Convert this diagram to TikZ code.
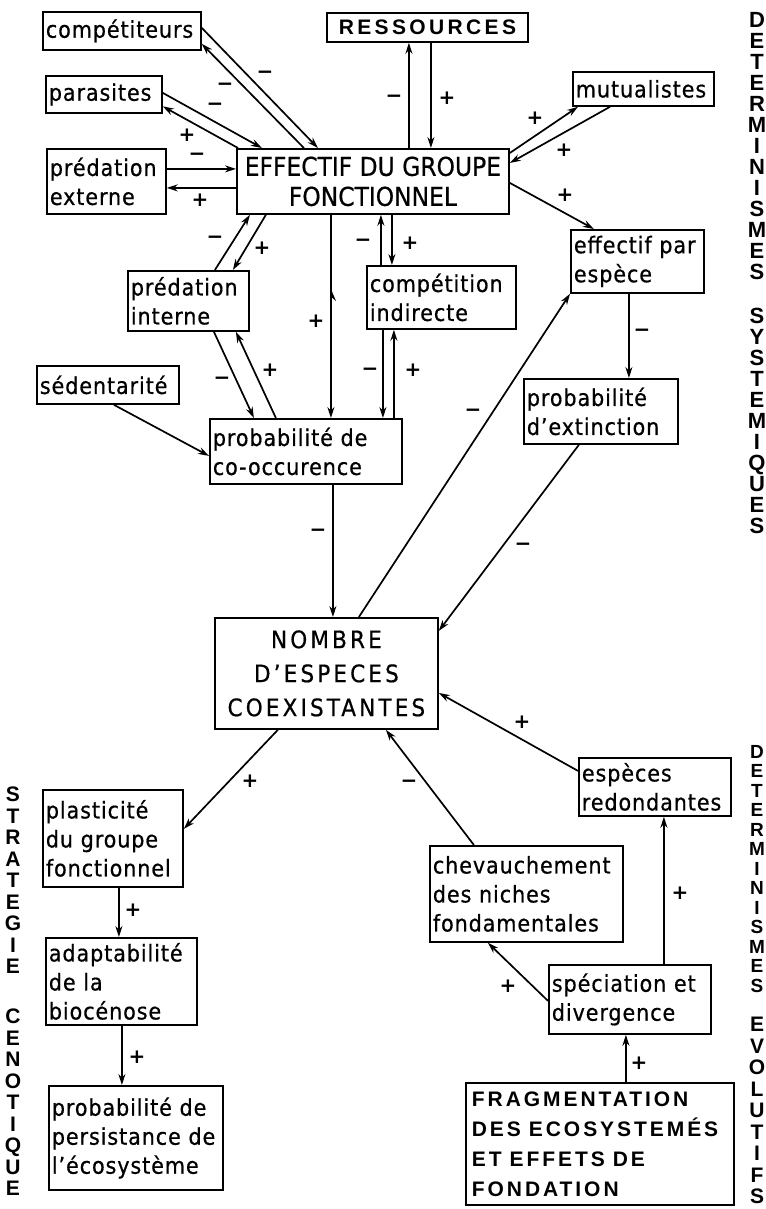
\documentclass[tikz,border=0pt]{standalone}
\usepackage{fontspec}
\usetikzlibrary{arrows.meta}
\newfontfamily\boxfont[LetterSpace=4,FakeBold=0.6]{DejaVu Sans Condensed}
\newfontfamily\capfont[FakeBold=0.6]{DejaVu Sans Condensed}
\newfontfamily\nombfont[LetterSpace=13,FakeBold=0.6]{DejaVu Sans Condensed}
\newfontfamily\resfont[LetterSpace=16]{Liberation Sans}
\newfontfamily\fragfont[LetterSpace=14]{Liberation Sans}
\newfontfamily\vertfont{Liberation Sans}
\newfontfamily\signfont{DejaVu Sans}
\newcommand\wsp{\hspace{8pt}}
\begin{document}
\begin{tikzpicture}[x=1pt,y=-1pt,
  bx/.style={draw, line width=1.8pt, anchor=north west, inner xsep=3pt, inner ysep=0pt, align=left, font=\boxfont\fontsize{23}{29}\selectfont},
  cbx/.style={draw, line width=1.8pt, anchor=north west, inner sep=0pt, align=center},
  arr/.style={line width=1.7pt, -{Stealth[length=11pt,width=7pt]}},
  sg/.style={font=\signfont\bfseries\fontsize{20}{20}\selectfont, inner sep=0pt},
  vt/.style={anchor=north, inner sep=0pt, align=center, font=\vertfont\bfseries\fontsize{22}{21}\selectfont},
]
\fill[white] (0,0) rectangle (765,1209);
\useasboundingbox (0,0) rectangle (765,1209);

% ---------- boxes ----------
\node[bx, text width=152pt, minimum height=38pt] (comp) at (42,11) {compétiteurs};
\node[cbx, minimum width=201pt, minimum height=29pt, font=\resfont\bfseries\fontsize{21}{21}\selectfont] (res) at (326,12) {RESSOURCES};
\node[bx, text width=110pt, minimum height=37pt] (para) at (45,75) {parasites};
\node[bx, text width=113pt, minimum height=65pt] (pext) at (46,148) {prédation\\externe};
\node[cbx, minimum width=272pt, minimum height=65pt, font=\capfont\fontsize{26}{30}\selectfont] (eff) at (236,148) {EFFECTIF DU GROUPE\\FONCTIONNEL};
\node[bx, text width=135pt, minimum height=34pt] (mut) at (572,71) {mutualistes};
\node[bx, text width=127pt, minimum height=63pt] (epe) at (570,229) {effectif par\\espèce};
\node[bx, text width=115pt, minimum height=60pt] (pint) at (127,270) {prédation\\interne};
\node[bx, text width=143pt, minimum height=63pt] (cind) at (366,265) {compétition\\indirecte};
\node[bx, text width=136pt, minimum height=38pt] (sed) at (36,365) {sédentarité};
\node[bx, text width=186pt, minimum height=65pt] (cooc) at (209,418) {probabilité de\\co-occurence};
\node[bx, text width=148pt, minimum height=65pt] (ext) at (523,378) {probabilité\\d’extinction};
\node[cbx, minimum width=223pt, minimum height=111pt, font=\nombfont\fontsize{24}{34}\selectfont] (nomb) at (214,617) {NOMBRE\\D’ESPECES\\COEXISTANTES};
\node[bx, text width=134pt, minimum height=97pt] (plast) at (42,789) {plasticité\\du groupe\\fonctionnel};
\node[bx, text width=145pt, minimum height=87pt] (adapt) at (45,937) {adaptabilité\\de la\\biocénose};
\node[bx, text width=168pt, minimum height=104pt] (pers) at (48,1085) {probabilité de\\persistance de\\l’écosystème};
\node[bx, text width=146pt, minimum height=58pt] (red) at (578,757) {espèces\\redondantes};
\node[bx, text width=187pt, minimum height=96pt] (chev) at (429,845) {chevauchement\\des niches\\fondamentales};
\node[bx, text width=156pt, minimum height=69pt] (spec) at (548,964) {spéciation et\\divergence};
\node[bx, inner xsep=6pt, text width=256pt, minimum height=122pt, font=\fragfont\bfseries\fontsize{21}{30}\selectfont] (frag) at (465,1082) {FRAGMENTATION\\DES\wsp ECOSYSTEMÉS\\ET\wsp EFFETS\wsp DE\\FONDATION};

% ---------- connectors ----------
\draw[arr] ([yshift=3pt]comp.east) -- ([xshift=-55pt]eff.north);
\draw[arr] ([xshift=-69pt]eff.north) -- ([yshift=-13pt]comp.east);
\draw[arr] ([yshift=1.5pt]para.east) -- ([xshift=-111pt]eff.north);
\draw[arr] ([xshift=2pt]eff.north west) -- ([yshift=-12pt]para.east);
\draw[arr] ([yshift=12.5pt]pext.east) -- ([yshift=12.5pt]eff.west);
\draw[arr] ([yshift=-6.5pt]eff.west) -- ([yshift=-6.5pt]pext.east);
\draw[arr] ([xshift=36pt]eff.north) -- ([xshift=-18.5pt]res.south);
\draw[arr] ([xshift=3.5pt]res.south) -- ([xshift=58pt]eff.north);
\draw[arr] ([yshift=-5pt]eff.north east) -- ([xshift=6pt]mut.south west);
\draw[arr] ([xshift=38pt]mut.south west) -- ([yshift=-15pt]eff.north east);
\draw[arr] ([yshift=-1.5pt]eff.east) -- ([xshift=-43.5pt]epe.north);
\draw[arr] ([xshift=26.5pt]pint.north) -- ([xshift=-123pt]eff.south);
\draw[arr] ([xshift=-107pt]eff.south) -- ([xshift=44.5pt]pint.north);
\draw[arr] ([xshift=-42pt]eff.south) -- ([xshift=25pt]cooc.north);
\fill (330,287) -- (336,301) -- (330,296) -- cycle;
\draw[arr] ([xshift=-60.5pt]cind.north) -- ([xshift=8pt]eff.south);
\draw[arr] ([xshift=19pt]eff.south) -- ([xshift=-49.5pt]cind.north);
\draw[arr] ([xshift=-58.5pt]cind.south) -- ([xshift=77pt]cooc.north);
\draw[arr] ([xshift=88pt]cooc.north) -- ([xshift=-47.5pt]cind.south);
\draw[arr] ([xshift=25.5pt]pint.south) -- ([xshift=-52pt]cooc.north);
\draw[arr] ([xshift=-30pt]cooc.north) -- ([xshift=47.5pt]pint.south);
\draw[arr] ([xshift=6pt]sed.south) -- ([yshift=-4.5pt]cooc.west);
\draw[arr] ([xshift=-8.5pt]epe.south) -- ([xshift=28pt]ext.north);
\draw[arr] ([xshift=27pt]cooc.south) -- ([xshift=6.5pt]nomb.north);
\draw[arr] ([xshift=32.5pt]nomb.north) -- (epe.south west);
\draw[arr] ([xshift=-22pt]ext.south) -- ([yshift=42.5pt]nomb.east);
\draw[arr] ([yshift=16pt]red.west) -- ([yshift=-19.5pt]nomb.east);
\draw[arr] ([xshift=-52.5pt]chev.north) -- ([xshift=59.5pt]nomb.south);
\draw[arr] ([xshift=-48.5pt]nomb.south) -- ([yshift=9.5pt]plast.east);
\draw[arr] ([xshift=6pt]plast.south) -- ([xshift=-2.5pt]adapt.north);
\draw[arr] ([xshift=0.5pt]adapt.south) -- ([xshift=-14pt]pers.north);
\draw[arr] ([yshift=-1.5pt]spec.west) -- ([xshift=-38.5pt]chev.south);
\draw[arr] ([xshift=34pt]spec.north) -- ([xshift=9pt]red.south);
\draw[arr] ([xshift=26pt]frag.north) -- ([xshift=-4pt]spec.south);

% ---------- signs ----------
\node[sg] (s1) at (265,75) {−};
\node[sg] (s2) at (225,87) {−};
\node[sg] (s3) at (215,107) {−};
\node[sg] (s4) at (187,135) {+};
\node[sg] (s5) at (197,157) {−};
\node[sg] (s6) at (200,200) {+};
\node[sg] (s7) at (394,99) {−};
\node[sg] (s8) at (447,98) {+};
\node[sg] (s9) at (535,118) {+};
\node[sg] (s10) at (564,150) {+};
\node[sg] (s11) at (565,195) {+};
\node[sg] (s12) at (215,240) {−};
\node[sg] (s13) at (262,248) {+};
\node[sg] (s14) at (316,321) {+};
\node[sg] (s15) at (363,243) {−};
\node[sg] (s16) at (410,243) {+};
\node[sg] (s17) at (370,372) {−};
\node[sg] (s18) at (413,370) {+};
\node[sg] (s19) at (222,381) {−};
\node[sg] (s20) at (270,370) {+};
\node[sg] (s21) at (642,333) {−};
\node[sg] (s22) at (318,533) {−};
\node[sg] (s23) at (473,413) {−};
\node[sg] (s24) at (523,547) {−};
\node[sg] (s25) at (522,722) {+};
\node[sg] (s26) at (409,784) {−};
\node[sg] (s27) at (250,781) {+};
\node[sg] (s28) at (133,910) {+};
\node[sg] (s29) at (137,1057) {+};
\node[sg] (s30) at (508,986) {+};
\node[sg] (s31) at (680,893) {+};
\node[sg] (s32) at (639,1063) {+};

% ---------- vertical titles ----------
\node[vt] (vs1) at (757,12) {D\\E\\T\\E\\R\\M\\I\\N\\I\\S\\M\\E\\S};
\node[vt] (vs2) at (757,308) {S\\Y\\S\\T\\E\\M\\I\\Q\\U\\E\\S};
\node[vt, font=\vertfont\bfseries\fontsize{19}{19.5}\selectfont] (ve1) at (757,745) {D\\E\\T\\E\\R\\M\\I\\N\\I\\S\\M\\E\\S};
\node[vt, font=\vertfont\bfseries\fontsize{21}{21.5}\selectfont] (ve2) at (757,1017) {E\\V\\O\\L\\U\\T\\I\\F\\S};
\node[vt, font=\vertfont\bfseries\fontsize{21}{21.5}\selectfont] (vl1) at (13,787) {S\\T\\R\\A\\T\\E\\G\\I\\E};
\node[vt, font=\vertfont\bfseries\fontsize{21}{21.5}\selectfont] (vl2) at (13,1009) {C\\E\\N\\O\\T\\I\\Q\\U\\E};
\end{tikzpicture}
\end{document}
